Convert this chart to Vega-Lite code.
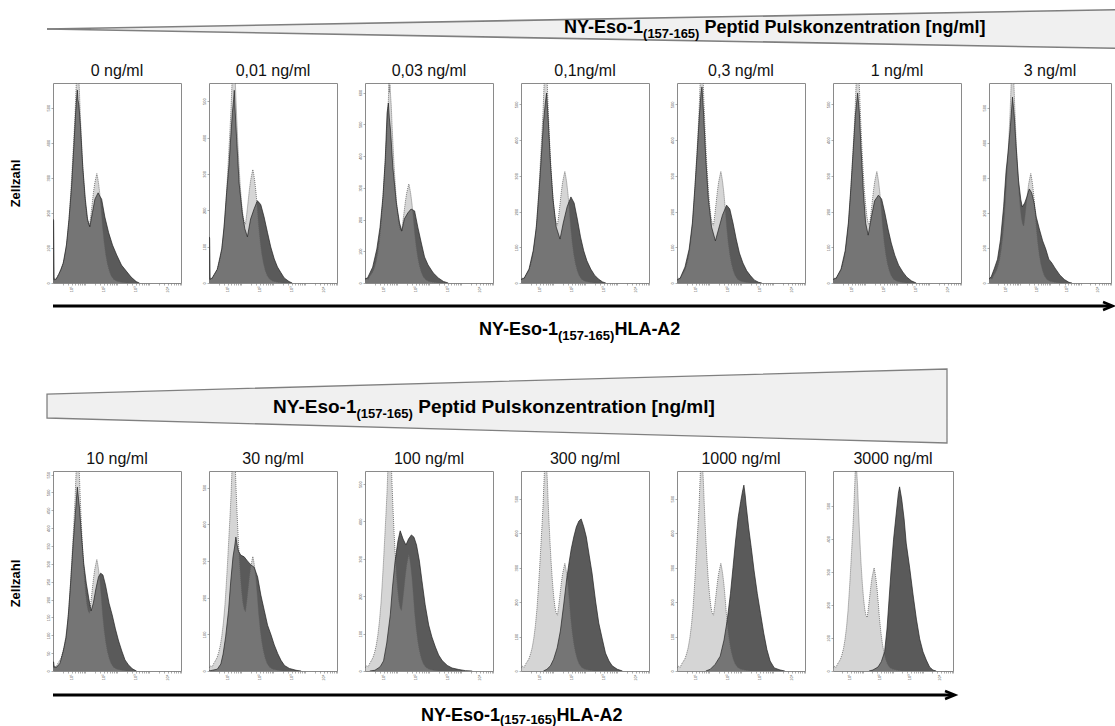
{
"$schema":"https://vega.github.io/schema/vega-lite/v6.json",
"padding":{"left":8,"top":0,"right":0,"bottom":0},
"background":"white",
"datasets":{
"control":[{"x":0,"n":8},{"x":0.05,"n":14},{"x":0.1,"n":11},{"x":0.15,"n":21},{"x":0.2,"n":28},{"x":0.25,"n":36},{"x":0.3,"n":50},{"x":0.35,"n":68},{"x":0.4,"n":95},{"x":0.45,"n":132},{"x":0.5,"n":182},{"x":0.54,"n":236},{"x":0.58,"n":296},{"x":0.62,"n":362},{"x":0.66,"n":428},{"x":0.69,"n":482},{"x":0.71,"n":530},{"x":0.73,"n":575},{"x":0.75,"n":640},{"x":0.76,"n":600},{"x":0.78,"n":625},{"x":0.8,"n":590},{"x":0.82,"n":560},{"x":0.85,"n":488},{"x":0.88,"n":425},{"x":0.91,"n":368},{"x":0.94,"n":318},{"x":0.98,"n":262},{"x":1.02,"n":218},{"x":1.06,"n":186},{"x":1.1,"n":168},{"x":1.14,"n":162},{"x":1.18,"n":190},{"x":1.22,"n":222},{"x":1.26,"n":255},{"x":1.3,"n":282},{"x":1.34,"n":300},{"x":1.37,"n":312},{"x":1.4,"n":298},{"x":1.43,"n":280},{"x":1.47,"n":248},{"x":1.51,"n":205},{"x":1.55,"n":158},{"x":1.6,"n":114},{"x":1.65,"n":80},{"x":1.7,"n":55},{"x":1.76,"n":34},{"x":1.82,"n":20},{"x":1.9,"n":10},{"x":2,"n":5},{"x":2.15,"n":2},{"x":2.3,"n":0}],
"sample":[
{"p":"p1","x":0,"n":182},{"p":"p1","x":0.02,"n":178},{"p":"p1","x":0.035,"n":9},{"p":"p1","x":0.1,"n":11},{"p":"p1","x":0.17,"n":23},{"p":"p1","x":0.25,"n":40},{"p":"p1","x":0.32,"n":57},{"p":"p1","x":0.42,"n":108},{"p":"p1","x":0.5,"n":182},{"p":"p1","x":0.58,"n":274},{"p":"p1","x":0.65,"n":388},{"p":"p1","x":0.71,"n":490},{"p":"p1","x":0.74,"n":528},{"p":"p1","x":0.76,"n":550},{"p":"p1","x":0.78,"n":522},{"p":"p1","x":0.81,"n":507},{"p":"p1","x":0.86,"n":445},{"p":"p1","x":0.93,"n":331},{"p":"p1","x":1.01,"n":239},{"p":"p1","x":1.08,"n":182},{"p":"p1","x":1.15,"n":160},{"p":"p1","x":1.23,"n":200},{"p":"p1","x":1.31,"n":239},{"p":"p1","x":1.37,"n":250},{"p":"p1","x":1.41,"n":257},{"p":"p1","x":1.46,"n":248},{"p":"p1","x":1.52,"n":239},{"p":"p1","x":1.62,"n":188},{"p":"p1","x":1.74,"n":143},{"p":"p1","x":1.86,"n":108},{"p":"p1","x":1.99,"n":80},{"p":"p1","x":2.14,"n":51},{"p":"p1","x":2.29,"n":34},{"p":"p1","x":2.44,"n":17},{"p":"p1","x":2.6,"n":4},{"p":"p1","x":2.7,"n":0},
{"p":"p2","x":0,"n":127},{"p":"p2","x":0.02,"n":124},{"p":"p2","x":0.035,"n":10},{"p":"p2","x":0.1,"n":14},{"p":"p2","x":0.26,"n":38},{"p":"p2","x":0.4,"n":94},{"p":"p2","x":0.47,"n":154},{"p":"p2","x":0.55,"n":248},{"p":"p2","x":0.63,"n":330},{"p":"p2","x":0.68,"n":402},{"p":"p2","x":0.73,"n":468},{"p":"p2","x":0.77,"n":505},{"p":"p2","x":0.79,"n":530},{"p":"p2","x":0.82,"n":470},{"p":"p2","x":0.86,"n":402},{"p":"p2","x":0.94,"n":275},{"p":"p2","x":1.04,"n":193},{"p":"p2","x":1.12,"n":149},{"p":"p2","x":1.2,"n":127},{"p":"p2","x":1.3,"n":176},{"p":"p2","x":1.41,"n":204},{"p":"p2","x":1.51,"n":226},{"p":"p2","x":1.56,"n":222},{"p":"p2","x":1.62,"n":215},{"p":"p2","x":1.72,"n":182},{"p":"p2","x":1.83,"n":138},{"p":"p2","x":1.93,"n":99},{"p":"p2","x":2.04,"n":66},{"p":"p2","x":2.14,"n":44},{"p":"p2","x":2.25,"n":28},{"p":"p2","x":2.35,"n":14},{"p":"p2","x":2.5,"n":4},{"p":"p2","x":2.6,"n":0},
{"p":"p3","x":0,"n":13},{"p":"p3","x":0.08,"n":16},{"p":"p3","x":0.24,"n":50},{"p":"p3","x":0.37,"n":107},{"p":"p3","x":0.47,"n":176},{"p":"p3","x":0.56,"n":271},{"p":"p3","x":0.63,"n":384},{"p":"p3","x":0.69,"n":535},{"p":"p3","x":0.73,"n":567},{"p":"p3","x":0.76,"n":520},{"p":"p3","x":0.8,"n":479},{"p":"p3","x":0.87,"n":365},{"p":"p3","x":0.98,"n":252},{"p":"p3","x":1.08,"n":189},{"p":"p3","x":1.15,"n":164},{"p":"p3","x":1.23,"n":202},{"p":"p3","x":1.34,"n":221},{"p":"p3","x":1.44,"n":233},{"p":"p3","x":1.55,"n":227},{"p":"p3","x":1.65,"n":176},{"p":"p3","x":1.76,"n":126},{"p":"p3","x":1.86,"n":82},{"p":"p3","x":1.97,"n":57},{"p":"p3","x":2.13,"n":32},{"p":"p3","x":2.29,"n":16},{"p":"p3","x":2.45,"n":5},{"p":"p3","x":2.6,"n":0},
{"p":"p4","x":0,"n":10},{"p":"p4","x":0.1,"n":14},{"p":"p4","x":0.25,"n":39},{"p":"p4","x":0.38,"n":90},{"p":"p4","x":0.48,"n":157},{"p":"p4","x":0.56,"n":252},{"p":"p4","x":0.63,"n":347},{"p":"p4","x":0.7,"n":448},{"p":"p4","x":0.76,"n":504},{"p":"p4","x":0.8,"n":532},{"p":"p4","x":0.85,"n":459},{"p":"p4","x":0.92,"n":336},{"p":"p4","x":1,"n":235},{"p":"p4","x":1.1,"n":157},{"p":"p4","x":1.22,"n":123},{"p":"p4","x":1.32,"n":168},{"p":"p4","x":1.44,"n":213},{"p":"p4","x":1.56,"n":241},{"p":"p4","x":1.66,"n":224},{"p":"p4","x":1.76,"n":179},{"p":"p4","x":1.86,"n":129},{"p":"p4","x":1.96,"n":90},{"p":"p4","x":2.06,"n":62},{"p":"p4","x":2.18,"n":39},{"p":"p4","x":2.3,"n":22},{"p":"p4","x":2.42,"n":11},{"p":"p4","x":2.55,"n":3},{"p":"p4","x":2.65,"n":0},
{"p":"p5","x":0,"n":8},{"p":"p5","x":0.1,"n":14},{"p":"p5","x":0.25,"n":45},{"p":"p5","x":0.38,"n":95},{"p":"p5","x":0.48,"n":168},{"p":"p5","x":0.56,"n":269},{"p":"p5","x":0.63,"n":364},{"p":"p5","x":0.7,"n":470},{"p":"p5","x":0.75,"n":532},{"p":"p5","x":0.78,"n":549},{"p":"p5","x":0.83,"n":476},{"p":"p5","x":0.9,"n":347},{"p":"p5","x":0.98,"n":235},{"p":"p5","x":1.08,"n":157},{"p":"p5","x":1.2,"n":118},{"p":"p5","x":1.3,"n":151},{"p":"p5","x":1.42,"n":190},{"p":"p5","x":1.55,"n":218},{"p":"p5","x":1.65,"n":207},{"p":"p5","x":1.75,"n":168},{"p":"p5","x":1.85,"n":123},{"p":"p5","x":1.95,"n":84},{"p":"p5","x":2.06,"n":56},{"p":"p5","x":2.18,"n":34},{"p":"p5","x":2.3,"n":20},{"p":"p5","x":2.42,"n":8},{"p":"p5","x":2.55,"n":2},{"p":"p5","x":2.65,"n":0},
{"p":"p6","x":0,"n":10},{"p":"p6","x":0.1,"n":14},{"p":"p6","x":0.25,"n":39},{"p":"p6","x":0.38,"n":90},{"p":"p6","x":0.48,"n":168},{"p":"p6","x":0.56,"n":269},{"p":"p6","x":0.63,"n":370},{"p":"p6","x":0.7,"n":470},{"p":"p6","x":0.77,"n":532},{"p":"p6","x":0.82,"n":482},{"p":"p6","x":0.88,"n":370},{"p":"p6","x":0.95,"n":252},{"p":"p6","x":1.02,"n":168},{"p":"p6","x":1.1,"n":134},{"p":"p6","x":1.2,"n":185},{"p":"p6","x":1.3,"n":230},{"p":"p6","x":1.42,"n":246},{"p":"p6","x":1.52,"n":235},{"p":"p6","x":1.62,"n":196},{"p":"p6","x":1.72,"n":151},{"p":"p6","x":1.82,"n":112},{"p":"p6","x":1.93,"n":78},{"p":"p6","x":2.05,"n":50},{"p":"p6","x":2.18,"n":31},{"p":"p6","x":2.3,"n":17},{"p":"p6","x":2.45,"n":6},{"p":"p6","x":2.6,"n":0},
{"p":"p7","x":0,"n":12},{"p":"p7","x":0.07,"n":17},{"p":"p7","x":0.17,"n":40},{"p":"p7","x":0.28,"n":68},{"p":"p7","x":0.38,"n":125},{"p":"p7","x":0.48,"n":217},{"p":"p7","x":0.56,"n":319},{"p":"p7","x":0.63,"n":376},{"p":"p7","x":0.7,"n":445},{"p":"p7","x":0.77,"n":530},{"p":"p7","x":0.83,"n":473},{"p":"p7","x":0.89,"n":388},{"p":"p7","x":0.97,"n":291},{"p":"p7","x":1.04,"n":239},{"p":"p7","x":1.09,"n":217},{"p":"p7","x":1.17,"n":228},{"p":"p7","x":1.24,"n":245},{"p":"p7","x":1.32,"n":268},{"p":"p7","x":1.4,"n":257},{"p":"p7","x":1.48,"n":228},{"p":"p7","x":1.55,"n":188},{"p":"p7","x":1.65,"n":154},{"p":"p7","x":1.76,"n":120},{"p":"p7","x":1.86,"n":97},{"p":"p7","x":1.96,"n":68},{"p":"p7","x":2.06,"n":57},{"p":"p7","x":2.16,"n":43},{"p":"p7","x":2.32,"n":23},{"p":"p7","x":2.47,"n":10},{"p":"p7","x":2.62,"n":2},{"p":"p7","x":2.72,"n":0},
{"p":"p8","x":0,"n":26},{"p":"p8","x":0.02,"n":25},{"p":"p8","x":0.035,"n":11},{"p":"p8","x":0.12,"n":11},{"p":"p8","x":0.22,"n":22},{"p":"p8","x":0.32,"n":56},{"p":"p8","x":0.41,"n":95},{"p":"p8","x":0.48,"n":157},{"p":"p8","x":0.55,"n":246},{"p":"p8","x":0.63,"n":358},{"p":"p8","x":0.7,"n":442},{"p":"p8","x":0.76,"n":515},{"p":"p8","x":0.83,"n":454},{"p":"p8","x":0.89,"n":381},{"p":"p8","x":0.96,"n":302},{"p":"p8","x":1.04,"n":246},{"p":"p8","x":1.12,"n":202},{"p":"p8","x":1.19,"n":168},{"p":"p8","x":1.26,"n":190},{"p":"p8","x":1.34,"n":230},{"p":"p8","x":1.42,"n":263},{"p":"p8","x":1.49,"n":274},{"p":"p8","x":1.56,"n":269},{"p":"p8","x":1.64,"n":241},{"p":"p8","x":1.75,"n":190},{"p":"p8","x":1.85,"n":157},{"p":"p8","x":1.95,"n":118},{"p":"p8","x":2.05,"n":84},{"p":"p8","x":2.15,"n":56},{"p":"p8","x":2.25,"n":31},{"p":"p8","x":2.36,"n":17},{"p":"p8","x":2.48,"n":6},{"p":"p8","x":2.61,"n":0},
{"p":"p9","x":0,"n":0},{"p":"p9","x":0.1,"n":2},{"p":"p9","x":0.26,"n":5},{"p":"p9","x":0.37,"n":19},{"p":"p9","x":0.44,"n":46},{"p":"p9","x":0.52,"n":93},{"p":"p9","x":0.61,"n":164},{"p":"p9","x":0.68,"n":245},{"p":"p9","x":0.75,"n":311},{"p":"p9","x":0.8,"n":338},{"p":"p9","x":0.84,"n":365},{"p":"p9","x":0.88,"n":343},{"p":"p9","x":0.92,"n":327},{"p":"p9","x":0.99,"n":316},{"p":"p9","x":1.1,"n":311},{"p":"p9","x":1.2,"n":300},{"p":"p9","x":1.31,"n":289},{"p":"p9","x":1.41,"n":283},{"p":"p9","x":1.52,"n":256},{"p":"p9","x":1.62,"n":207},{"p":"p9","x":1.73,"n":164},{"p":"p9","x":1.83,"n":125},{"p":"p9","x":1.94,"n":98},{"p":"p9","x":2.04,"n":71},{"p":"p9","x":2.15,"n":47},{"p":"p9","x":2.25,"n":29},{"p":"p9","x":2.36,"n":15},{"p":"p9","x":2.51,"n":7},{"p":"p9","x":2.72,"n":2},{"p":"p9","x":2.88,"n":0},
{"p":"p10","x":0.15,"n":0},{"p":"p10","x":0.31,"n":2},{"p":"p10","x":0.47,"n":11},{"p":"p10","x":0.58,"n":27},{"p":"p10","x":0.68,"n":75},{"p":"p10","x":0.79,"n":150},{"p":"p10","x":0.86,"n":225},{"p":"p10","x":0.94,"n":294},{"p":"p10","x":1.03,"n":348},{"p":"p10","x":1.1,"n":375},{"p":"p10","x":1.19,"n":353},{"p":"p10","x":1.28,"n":337},{"p":"p10","x":1.36,"n":353},{"p":"p10","x":1.45,"n":364},{"p":"p10","x":1.53,"n":358},{"p":"p10","x":1.61,"n":337},{"p":"p10","x":1.7,"n":294},{"p":"p10","x":1.78,"n":241},{"p":"p10","x":1.88,"n":177},{"p":"p10","x":1.99,"n":123},{"p":"p10","x":2.09,"n":91},{"p":"p10","x":2.2,"n":64},{"p":"p10","x":2.3,"n":43},{"p":"p10","x":2.41,"n":28},{"p":"p10","x":2.57,"n":15},{"p":"p10","x":2.72,"n":8},{"p":"p10","x":2.93,"n":4},{"p":"p10","x":3.14,"n":1},{"p":"p10","x":3.35,"n":0},
{"p":"p11","x":0.7,"n":0},{"p":"p11","x":0.81,"n":5},{"p":"p11","x":0.92,"n":15},{"p":"p11","x":1.02,"n":34},{"p":"p11","x":1.13,"n":67},{"p":"p11","x":1.23,"n":116},{"p":"p11","x":1.34,"n":197},{"p":"p11","x":1.42,"n":261},{"p":"p11","x":1.49,"n":307},{"p":"p11","x":1.57,"n":354},{"p":"p11","x":1.65,"n":389},{"p":"p11","x":1.73,"n":418},{"p":"p11","x":1.81,"n":435},{"p":"p11","x":1.88,"n":441},{"p":"p11","x":1.96,"n":418},{"p":"p11","x":2.04,"n":389},{"p":"p11","x":2.13,"n":336},{"p":"p11","x":2.22,"n":284},{"p":"p11","x":2.33,"n":203},{"p":"p11","x":2.43,"n":139},{"p":"p11","x":2.54,"n":93},{"p":"p11","x":2.64,"n":52},{"p":"p11","x":2.75,"n":29},{"p":"p11","x":2.85,"n":15},{"p":"p11","x":3.01,"n":5},{"p":"p11","x":3.17,"n":0},
{"p":"p12","x":0.9,"n":0},{"p":"p12","x":1.04,"n":5},{"p":"p12","x":1.19,"n":19},{"p":"p12","x":1.35,"n":43},{"p":"p12","x":1.47,"n":90},{"p":"p12","x":1.57,"n":148},{"p":"p12","x":1.67,"n":224},{"p":"p12","x":1.75,"n":300},{"p":"p12","x":1.83,"n":377},{"p":"p12","x":1.91,"n":444},{"p":"p12","x":1.99,"n":491},{"p":"p12","x":2.05,"n":522},{"p":"p12","x":2.09,"n":539},{"p":"p12","x":2.13,"n":510},{"p":"p12","x":2.16,"n":481},{"p":"p12","x":2.24,"n":415},{"p":"p12","x":2.32,"n":358},{"p":"p12","x":2.41,"n":290},{"p":"p12","x":2.51,"n":224},{"p":"p12","x":2.61,"n":167},{"p":"p12","x":2.71,"n":110},{"p":"p12","x":2.81,"n":62},{"p":"p12","x":2.91,"n":29},{"p":"p12","x":3.04,"n":9},{"p":"p12","x":3.22,"n":3},{"p":"p12","x":3.37,"n":0},
{"p":"p13","x":1.2,"n":0},{"p":"p13","x":1.33,"n":3},{"p":"p13","x":1.5,"n":12},{"p":"p13","x":1.61,"n":28},{"p":"p13","x":1.72,"n":58},{"p":"p13","x":1.8,"n":127},{"p":"p13","x":1.87,"n":218},{"p":"p13","x":1.94,"n":309},{"p":"p13","x":2.02,"n":399},{"p":"p13","x":2.11,"n":478},{"p":"p13","x":2.18,"n":538},{"p":"p13","x":2.22,"n":557},{"p":"p13","x":2.29,"n":520},{"p":"p13","x":2.37,"n":460},{"p":"p13","x":2.44,"n":387},{"p":"p13","x":2.56,"n":309},{"p":"p13","x":2.67,"n":230},{"p":"p13","x":2.78,"n":157},{"p":"p13","x":2.89,"n":97},{"p":"p13","x":3,"n":58},{"p":"p13","x":3.11,"n":33},{"p":"p13","x":3.22,"n":12},{"p":"p13","x":3.33,"n":3},{"p":"p13","x":3.44,"n":0}
]
},
"vconcat":[
{
"width":1062,"height":62,"view":{"stroke":null},
"layer":[
{"data":{"values":[{"x":-0.00565,"lo":0,"hi":0},{"x":1,"lo":-1,"hi":1}]},"mark":{"type":"area","color":"#f0f0f0"},
"encoding":{"x":{"field":"x","type":"quantitative","scale":{"domain":[0,1],"nice":false,"zero":false},"axis":null},"y":{"field":"lo","type":"quantitative","scale":{"domain":[-1.71,1.503],"nice":false,"zero":false},"axis":null},"y2":{"field":"hi"}}},
{"data":{"values":[{"x":-0.00565,"e":"top","v":0},{"x":1,"e":"top","v":1},{"x":-0.00565,"e":"bottom","v":0},{"x":1,"e":"bottom","v":-1}]},"mark":{"type":"line","color":"#7f7f7f","strokeWidth":1.6},
"encoding":{"x":{"field":"x","type":"quantitative"},"y":{"field":"v","type":"quantitative"},"detail":{"field":"e"}}},
{"data":{"values":[{}]},"mark":{"type":"text","text":"NY-Eso-1","align":"right","baseline":"alphabetic","fontSize":18,"fontWeight":"bold","color":"#000"},"encoding":{"x":{"datum":0.5556},"y":{"datum":-0.207}}},
{"data":{"values":[{}]},"mark":{"type":"text","text":"(157-165)","align":"left","baseline":"alphabetic","fontSize":13,"fontWeight":"bold","dy":5.5,"color":"#000"},"encoding":{"x":{"datum":0.5556},"y":{"datum":-0.207}}},
{"data":{"values":[{}]},"mark":{"type":"text","text":"Peptid Pulskonzentration [ng/ml]","align":"left","baseline":"alphabetic","fontSize":18,"fontWeight":"bold","dx":61.4,"color":"#000"},"encoding":{"x":{"datum":0.5556},"y":{"datum":-0.207}}}
]
},
{
"hconcat":[
{"title":"0 ng/ml","width":128,"height":200,
"encoding":{"x":{"field":"x","type":"quantitative","scale":{"domain":[0,4],"nice":false,"zero":false},"axis":{"values":[0.301,0.477,0.602,0.699,0.778,0.845,0.903,0.954,1,1.301,1.477,1.602,1.699,1.778,1.845,1.903,1.954,2,2.301,2.477,2.602,2.699,2.778,2.845,2.903,2.954,3,3.301,3.477,3.602,3.699,3.778,3.845,3.903,3.954,4],"labelExpr":"datum.value==1?'10¹':datum.value==2?'10²':datum.value==3?'10³':datum.value==4?'10⁴':''","title":null}},
"y":{"field":"n","type":"quantitative","scale":{"domain":[0,570],"nice":false,"zero":false},"axis":{"values":[0,100,200,300,400,500],"title":"Zellzahl","titleFontSize":13,"titleFontWeight":"bold","titleX":-34,"titleY":100,"titleBaseline":"alphabetic","titleAlign":"center","titleColor":"#000"}}},
"layer":[
{"data":{"name":"sample"},"transform":[{"filter":"datum.p=='p1'"}],"mark":{"type":"area","color":"#5a5a5a","clip":true}},
{"data":{"name":"control"},"mark":{"type":"area","color":"#9c9c9c","opacity":0.42,"clip":true}},
{"data":{"name":"control"},"mark":{"type":"line","color":"#5e5e5e","strokeWidth":0.8,"strokeDash":[1,1],"clip":true}},
{"data":{"name":"sample"},"transform":[{"filter":"datum.p=='p1'"}],"mark":{"type":"line","color":"#222","strokeWidth":0.7,"clip":true}},
{"data":{"values":[{}]},"mark":{"type":"rule","color":"#8a8a8a"},"encoding":{"x":{"datum":2.28},"y":{"datum":0},"y2":{"datum":570}}},
{"data":{"values":[{}]},"mark":{"type":"rule","color":"#666"},"encoding":{"x":{"datum":2.28},"x2":{"datum":4},"y":{"datum":34}}}
]},
{"title":"0,01 ng/ml","width":128,"height":200,
"encoding":{"x":{"field":"x","type":"quantitative","scale":{"domain":[0,4],"nice":false,"zero":false},"axis":{"values":[0.301,0.477,0.602,0.699,0.778,0.845,0.903,0.954,1,1.301,1.477,1.602,1.699,1.778,1.845,1.903,1.954,2,2.301,2.477,2.602,2.699,2.778,2.845,2.903,2.954,3,3.301,3.477,3.602,3.699,3.778,3.845,3.903,3.954,4],"labelExpr":"datum.value==1?'10¹':datum.value==2?'10²':datum.value==3?'10³':datum.value==4?'10⁴':''","title":null}},
"y":{"field":"n","type":"quantitative","scale":{"domain":[0,550],"nice":false,"zero":false},"axis":{"values":[0,100,200,300,400,500],"title":null}}},
"layer":[
{"data":{"name":"sample"},"transform":[{"filter":"datum.p=='p2'"}],"mark":{"type":"area","color":"#5a5a5a","clip":true}},
{"data":{"name":"control"},"mark":{"type":"area","color":"#9c9c9c","opacity":0.42,"clip":true}},
{"data":{"name":"control"},"mark":{"type":"line","color":"#5e5e5e","strokeWidth":0.8,"strokeDash":[1,1],"clip":true}},
{"data":{"name":"sample"},"transform":[{"filter":"datum.p=='p2'"}],"mark":{"type":"line","color":"#222","strokeWidth":0.7,"clip":true}},
{"data":{"values":[{}]},"mark":{"type":"rule","color":"#8a8a8a"},"encoding":{"x":{"datum":2.28},"y":{"datum":0},"y2":{"datum":550}}},
{"data":{"values":[{}]},"mark":{"type":"rule","color":"#666"},"encoding":{"x":{"datum":2.28},"x2":{"datum":4},"y":{"datum":33}}}
]},
{"title":"0,03 ng/ml","width":128,"height":200,
"encoding":{"x":{"field":"x","type":"quantitative","scale":{"domain":[0,4],"nice":false,"zero":false},"axis":{"values":[0.301,0.477,0.602,0.699,0.778,0.845,0.903,0.954,1,1.301,1.477,1.602,1.699,1.778,1.845,1.903,1.954,2,2.301,2.477,2.602,2.699,2.778,2.845,2.903,2.954,3,3.301,3.477,3.602,3.699,3.778,3.845,3.903,3.954,4],"labelExpr":"datum.value==1?'10¹':datum.value==2?'10²':datum.value==3?'10³':datum.value==4?'10⁴':''","title":null}},
"y":{"field":"n","type":"quantitative","scale":{"domain":[0,630],"nice":false,"zero":false},"axis":{"values":[0,100,200,300,400,500,600],"title":null}}},
"layer":[
{"data":{"name":"sample"},"transform":[{"filter":"datum.p=='p3'"}],"mark":{"type":"area","color":"#5a5a5a","clip":true}},
{"data":{"name":"control"},"mark":{"type":"area","color":"#9c9c9c","opacity":0.42,"clip":true}},
{"data":{"name":"control"},"mark":{"type":"line","color":"#5e5e5e","strokeWidth":0.8,"strokeDash":[1,1],"clip":true}},
{"data":{"name":"sample"},"transform":[{"filter":"datum.p=='p3'"}],"mark":{"type":"line","color":"#222","strokeWidth":0.7,"clip":true}},
{"data":{"values":[{}]},"mark":{"type":"rule","color":"#8a8a8a"},"encoding":{"x":{"datum":2.28},"y":{"datum":0},"y2":{"datum":630}}},
{"data":{"values":[{}]},"mark":{"type":"rule","color":"#666"},"encoding":{"x":{"datum":2.28},"x2":{"datum":4},"y":{"datum":38}}}
]},
{"title":"0,1ng/ml","width":128,"height":200,
"encoding":{"x":{"field":"x","type":"quantitative","scale":{"domain":[0,4],"nice":false,"zero":false},"axis":{"values":[0.301,0.477,0.602,0.699,0.778,0.845,0.903,0.954,1,1.301,1.477,1.602,1.699,1.778,1.845,1.903,1.954,2,2.301,2.477,2.602,2.699,2.778,2.845,2.903,2.954,3,3.301,3.477,3.602,3.699,3.778,3.845,3.903,3.954,4],"labelExpr":"datum.value==1?'10¹':datum.value==2?'10²':datum.value==3?'10³':datum.value==4?'10⁴':''","title":null}},
"y":{"field":"n","type":"quantitative","scale":{"domain":[0,560],"nice":false,"zero":false},"axis":{"values":[0,100,200,300,400,500],"title":null}}},
"layer":[
{"data":{"name":"sample"},"transform":[{"filter":"datum.p=='p4'"}],"mark":{"type":"area","color":"#5a5a5a","clip":true}},
{"data":{"name":"control"},"mark":{"type":"area","color":"#9c9c9c","opacity":0.42,"clip":true}},
{"data":{"name":"control"},"mark":{"type":"line","color":"#5e5e5e","strokeWidth":0.8,"strokeDash":[1,1],"clip":true}},
{"data":{"name":"sample"},"transform":[{"filter":"datum.p=='p4'"}],"mark":{"type":"line","color":"#222","strokeWidth":0.7,"clip":true}},
{"data":{"values":[{}]},"mark":{"type":"rule","color":"#8a8a8a"},"encoding":{"x":{"datum":2.28},"y":{"datum":0},"y2":{"datum":560}}},
{"data":{"values":[{}]},"mark":{"type":"rule","color":"#666"},"encoding":{"x":{"datum":2.28},"x2":{"datum":4},"y":{"datum":34}}}
]},
{"title":"0,3 ng/ml","width":128,"height":200,
"encoding":{"x":{"field":"x","type":"quantitative","scale":{"domain":[0,4],"nice":false,"zero":false},"axis":{"values":[0.301,0.477,0.602,0.699,0.778,0.845,0.903,0.954,1,1.301,1.477,1.602,1.699,1.778,1.845,1.903,1.954,2,2.301,2.477,2.602,2.699,2.778,2.845,2.903,2.954,3,3.301,3.477,3.602,3.699,3.778,3.845,3.903,3.954,4],"labelExpr":"datum.value==1?'10¹':datum.value==2?'10²':datum.value==3?'10³':datum.value==4?'10⁴':''","title":null}},
"y":{"field":"n","type":"quantitative","scale":{"domain":[0,560],"nice":false,"zero":false},"axis":{"values":[0,100,200,300,400,500],"title":null}}},
"layer":[
{"data":{"name":"sample"},"transform":[{"filter":"datum.p=='p5'"}],"mark":{"type":"area","color":"#5a5a5a","clip":true}},
{"data":{"name":"control"},"mark":{"type":"area","color":"#9c9c9c","opacity":0.42,"clip":true}},
{"data":{"name":"control"},"mark":{"type":"line","color":"#5e5e5e","strokeWidth":0.8,"strokeDash":[1,1],"clip":true}},
{"data":{"name":"sample"},"transform":[{"filter":"datum.p=='p5'"}],"mark":{"type":"line","color":"#222","strokeWidth":0.7,"clip":true}},
{"data":{"values":[{}]},"mark":{"type":"rule","color":"#8a8a8a"},"encoding":{"x":{"datum":2.28},"y":{"datum":0},"y2":{"datum":560}}},
{"data":{"values":[{}]},"mark":{"type":"rule","color":"#666"},"encoding":{"x":{"datum":2.28},"x2":{"datum":4},"y":{"datum":34}}}
]},
{"title":"1 ng/ml","width":128,"height":200,
"encoding":{"x":{"field":"x","type":"quantitative","scale":{"domain":[0,4],"nice":false,"zero":false},"axis":{"values":[0.301,0.477,0.602,0.699,0.778,0.845,0.903,0.954,1,1.301,1.477,1.602,1.699,1.778,1.845,1.903,1.954,2,2.301,2.477,2.602,2.699,2.778,2.845,2.903,2.954,3,3.301,3.477,3.602,3.699,3.778,3.845,3.903,3.954,4],"labelExpr":"datum.value==1?'10¹':datum.value==2?'10²':datum.value==3?'10³':datum.value==4?'10⁴':''","title":null}},
"y":{"field":"n","type":"quantitative","scale":{"domain":[0,560],"nice":false,"zero":false},"axis":{"values":[0,100,200,300,400,500],"title":null}}},
"layer":[
{"data":{"name":"sample"},"transform":[{"filter":"datum.p=='p6'"}],"mark":{"type":"area","color":"#5a5a5a","clip":true}},
{"data":{"name":"control"},"mark":{"type":"area","color":"#9c9c9c","opacity":0.42,"clip":true}},
{"data":{"name":"control"},"mark":{"type":"line","color":"#5e5e5e","strokeWidth":0.8,"strokeDash":[1,1],"clip":true}},
{"data":{"name":"sample"},"transform":[{"filter":"datum.p=='p6'"}],"mark":{"type":"line","color":"#222","strokeWidth":0.7,"clip":true}},
{"data":{"values":[{}]},"mark":{"type":"rule","color":"#8a8a8a"},"encoding":{"x":{"datum":2.28},"y":{"datum":0},"y2":{"datum":560}}},
{"data":{"values":[{}]},"mark":{"type":"rule","color":"#666"},"encoding":{"x":{"datum":2.28},"x2":{"datum":4},"y":{"datum":34}}}
]},
{"title":"3 ng/ml","width":122,"height":200,
"encoding":{"x":{"field":"x","type":"quantitative","scale":{"domain":[0,4],"nice":false,"zero":false},"axis":{"values":[0.301,0.477,0.602,0.699,0.778,0.845,0.903,0.954,1,1.301,1.477,1.602,1.699,1.778,1.845,1.903,1.954,2,2.301,2.477,2.602,2.699,2.778,2.845,2.903,2.954,3,3.301,3.477,3.602,3.699,3.778,3.845,3.903,3.954,4],"labelExpr":"datum.value==1?'10¹':datum.value==2?'10²':datum.value==3?'10³':datum.value==4?'10⁴':''","title":null}},
"y":{"field":"n","type":"quantitative","scale":{"domain":[0,570],"nice":false,"zero":false},"axis":{"values":[0,100,200,300,400,500],"title":null}}},
"layer":[
{"data":{"name":"sample"},"transform":[{"filter":"datum.p=='p7'"}],"mark":{"type":"area","color":"#5a5a5a","clip":true}},
{"data":{"name":"control"},"mark":{"type":"area","color":"#9c9c9c","opacity":0.42,"clip":true}},
{"data":{"name":"control"},"mark":{"type":"line","color":"#5e5e5e","strokeWidth":0.8,"strokeDash":[1,1],"clip":true}},
{"data":{"name":"sample"},"transform":[{"filter":"datum.p=='p7'"}],"mark":{"type":"line","color":"#222","strokeWidth":0.7,"clip":true}},
{"data":{"values":[{}]},"mark":{"type":"rule","color":"#8a8a8a"},"encoding":{"x":{"datum":2.28},"y":{"datum":0},"y2":{"datum":570}}},
{"data":{"values":[{}]},"mark":{"type":"rule","color":"#666"},"encoding":{"x":{"datum":2.28},"x2":{"datum":4},"y":{"datum":34}}}
]}
],
"spacing":19
},
{
"width":1060,"height":52,"view":{"stroke":null},
"layer":[
{"data":{"values":[{}]},"mark":{"type":"rule","color":"#000","strokeWidth":3},"encoding":{"x":{"datum":0,"type":"quantitative","scale":{"domain":[0,1],"nice":false,"zero":false},"axis":null},"x2":{"datum":0.998},"y":{"datum":0.25,"type":"quantitative","scale":{"domain":[0,1],"reverse":true,"nice":false,"zero":false},"axis":null}}},
{"data":{"values":[{}]},"mark":{"type":"point","shape":"M-1,-0.8L1,0L-1,0.8","filled":false,"stroke":"#000","strokeWidth":2.5,"size":100,"opacity":1},"encoding":{"x":{"datum":0.9953},"y":{"datum":0.25}}},
{"data":{"values":[{}]},"mark":{"type":"text","text":"NY-Eso-1","align":"right","baseline":"alphabetic","fontSize":18,"fontWeight":"bold","color":"#000"},"encoding":{"x":{"datum":0.4764},"y":{"datum":0.808}}},
{"data":{"values":[{}]},"mark":{"type":"text","text":"(157-165)","align":"left","baseline":"alphabetic","fontSize":13,"fontWeight":"bold","dy":5,"color":"#000"},"encoding":{"x":{"datum":0.4764},"y":{"datum":0.808}}},
{"data":{"values":[{}]},"mark":{"type":"text","text":"HLA-A2","align":"left","baseline":"alphabetic","fontSize":18,"fontWeight":"bold","dx":56.4,"color":"#000"},"encoding":{"x":{"datum":0.4764},"y":{"datum":0.808}}}
]
},
{
"width":894,"height":105,"view":{"stroke":null},
"layer":[
{"data":{"values":[{"x":-0.0067,"lo":-0.324,"hi":0.324},{"x":1,"lo":-1,"hi":1}]},"mark":{"type":"area","color":"#f0f0f0","stroke":"#808080","strokeWidth":1.3},
"encoding":{"x":{"field":"x","type":"quantitative","scale":{"domain":[0,1],"nice":false,"zero":false},"axis":null},"y":{"field":"lo","type":"quantitative","scale":{"domain":[-1.189,1.649],"nice":false,"zero":false},"axis":null},"y2":{"field":"hi"}}},
{"data":{"values":[{}]},"mark":{"type":"text","text":"NY-Eso-1","align":"right","baseline":"alphabetic","fontSize":19,"fontWeight":"bold","color":"#000"},"encoding":{"x":{"datum":0.3395},"y":{"datum":-0.2}}},
{"data":{"values":[{}]},"mark":{"type":"text","text":"(157-165)","align":"left","baseline":"alphabetic","fontSize":13,"fontWeight":"bold","dy":5,"color":"#000"},"encoding":{"x":{"datum":0.3395},"y":{"datum":-0.2}}},
{"data":{"values":[{}]},"mark":{"type":"text","text":"Peptid Pulskonzentration [ng/ml]","align":"left","baseline":"alphabetic","fontSize":19,"fontWeight":"bold","dx":61.7,"color":"#000"},"encoding":{"x":{"datum":0.3395},"y":{"datum":-0.2}}}
]
},
{
"hconcat":[
{"title":"10 ng/ml","width":128,"height":200,
"encoding":{"x":{"field":"x","type":"quantitative","scale":{"domain":[0,4],"nice":false,"zero":false},"axis":{"values":[0.301,0.477,0.602,0.699,0.778,0.845,0.903,0.954,1,1.301,1.477,1.602,1.699,1.778,1.845,1.903,1.954,2,2.301,2.477,2.602,2.699,2.778,2.845,2.903,2.954,3,3.301,3.477,3.602,3.699,3.778,3.845,3.903,3.954,4],"labelExpr":"datum.value==1?'10¹':datum.value==2?'10²':datum.value==3?'10³':datum.value==4?'10⁴':''","title":null}},
"y":{"field":"n","type":"quantitative","scale":{"domain":[0,560],"nice":false,"zero":false},"axis":{"values":[0,50,100,150,200,250,300,350,400,450,500,550],"title":"Zellzahl","titleFontSize":13,"titleFontWeight":"bold","titleX":-34,"titleY":112,"titleBaseline":"alphabetic","titleAlign":"center","titleColor":"#000"}}},
"layer":[
{"data":{"name":"sample"},"transform":[{"filter":"datum.p=='p8'"}],"mark":{"type":"area","color":"#5a5a5a","clip":true}},
{"data":{"name":"control"},"mark":{"type":"area","color":"#9c9c9c","opacity":0.42,"clip":true}},
{"data":{"name":"control"},"mark":{"type":"line","color":"#5e5e5e","strokeWidth":0.8,"strokeDash":[1,1],"clip":true}},
{"data":{"name":"sample"},"transform":[{"filter":"datum.p=='p8'"}],"mark":{"type":"line","color":"#222","strokeWidth":0.7,"clip":true}},
{"data":{"values":[{}]},"mark":{"type":"rule","color":"#8a8a8a"},"encoding":{"x":{"datum":2.28},"y":{"datum":0},"y2":{"datum":560}}},
{"data":{"values":[{}]},"mark":{"type":"rule","color":"#666"},"encoding":{"x":{"datum":2.28},"x2":{"datum":4},"y":{"datum":33}}}
]},
{"title":"30 ng/ml","width":128,"height":200,
"encoding":{"x":{"field":"x","type":"quantitative","scale":{"domain":[0,4],"nice":false,"zero":false},"axis":{"values":[0.301,0.477,0.602,0.699,0.778,0.845,0.903,0.954,1,1.301,1.477,1.602,1.699,1.778,1.845,1.903,1.954,2,2.301,2.477,2.602,2.699,2.778,2.845,2.903,2.954,3,3.301,3.477,3.602,3.699,3.778,3.845,3.903,3.954,4],"labelExpr":"datum.value==1?'10¹':datum.value==2?'10²':datum.value==3?'10³':datum.value==4?'10⁴':''","title":null}},
"y":{"field":"n","type":"quantitative","scale":{"domain":[0,545],"nice":false,"zero":false},"axis":{"values":[0,100,200,300,400,500],"title":null}}},
"layer":[
{"data":{"name":"sample"},"transform":[{"filter":"datum.p=='p9'"}],"mark":{"type":"area","color":"#5a5a5a","clip":true}},
{"data":{"name":"control"},"mark":{"type":"area","color":"#9c9c9c","opacity":0.42,"clip":true}},
{"data":{"name":"control"},"mark":{"type":"line","color":"#5e5e5e","strokeWidth":0.8,"strokeDash":[1,1],"clip":true}},
{"data":{"name":"sample"},"transform":[{"filter":"datum.p=='p9'"}],"mark":{"type":"line","color":"#222","strokeWidth":0.7,"clip":true}},
{"data":{"values":[{}]},"mark":{"type":"rule","color":"#8a8a8a"},"encoding":{"x":{"datum":2.28},"y":{"datum":0},"y2":{"datum":545}}},
{"data":{"values":[{}]},"mark":{"type":"rule","color":"#666"},"encoding":{"x":{"datum":2.28},"x2":{"datum":4},"y":{"datum":33}}}
]},
{"title":"100 ng/ml","width":128,"height":200,
"encoding":{"x":{"field":"x","type":"quantitative","scale":{"domain":[0,4],"nice":false,"zero":false},"axis":{"values":[0.301,0.477,0.602,0.699,0.778,0.845,0.903,0.954,1,1.301,1.477,1.602,1.699,1.778,1.845,1.903,1.954,2,2.301,2.477,2.602,2.699,2.778,2.845,2.903,2.954,3,3.301,3.477,3.602,3.699,3.778,3.845,3.903,3.954,4],"labelExpr":"datum.value==1?'10¹':datum.value==2?'10²':datum.value==3?'10³':datum.value==4?'10⁴':''","title":null}},
"y":{"field":"n","type":"quantitative","scale":{"domain":[0,535],"nice":false,"zero":false},"axis":{"values":[0,100,200,300,400,500],"title":null}}},
"layer":[
{"data":{"name":"sample"},"transform":[{"filter":"datum.p=='p10'"}],"mark":{"type":"area","color":"#5a5a5a","clip":true}},
{"data":{"name":"control"},"mark":{"type":"area","color":"#9c9c9c","opacity":0.42,"clip":true}},
{"data":{"name":"control"},"mark":{"type":"line","color":"#5e5e5e","strokeWidth":0.8,"strokeDash":[1,1],"clip":true}},
{"data":{"name":"sample"},"transform":[{"filter":"datum.p=='p10'"}],"mark":{"type":"line","color":"#222","strokeWidth":0.7,"clip":true}},
{"data":{"values":[{}]},"mark":{"type":"rule","color":"#8a8a8a"},"encoding":{"x":{"datum":2.28},"y":{"datum":0},"y2":{"datum":535}}},
{"data":{"values":[{}]},"mark":{"type":"rule","color":"#666"},"encoding":{"x":{"datum":2.28},"x2":{"datum":4},"y":{"datum":32}}}
]},
{"title":"300 ng/ml","width":128,"height":200,
"encoding":{"x":{"field":"x","type":"quantitative","scale":{"domain":[0,4],"nice":false,"zero":false},"axis":{"values":[0.301,0.477,0.602,0.699,0.778,0.845,0.903,0.954,1,1.301,1.477,1.602,1.699,1.778,1.845,1.903,1.954,2,2.301,2.477,2.602,2.699,2.778,2.845,2.903,2.954,3,3.301,3.477,3.602,3.699,3.778,3.845,3.903,3.954,4],"labelExpr":"datum.value==1?'10¹':datum.value==2?'10²':datum.value==3?'10³':datum.value==4?'10⁴':''","title":null}},
"y":{"field":"n","type":"quantitative","scale":{"domain":[0,580],"nice":false,"zero":false},"axis":{"values":[0,100,200,300,400,500],"title":null}}},
"layer":[
{"data":{"name":"sample"},"transform":[{"filter":"datum.p=='p11'"}],"mark":{"type":"area","color":"#5a5a5a","clip":true}},
{"data":{"name":"control"},"mark":{"type":"area","color":"#9c9c9c","opacity":0.42,"clip":true}},
{"data":{"name":"control"},"mark":{"type":"line","color":"#5e5e5e","strokeWidth":0.8,"strokeDash":[1,1],"clip":true}},
{"data":{"name":"sample"},"transform":[{"filter":"datum.p=='p11'"}],"mark":{"type":"line","color":"#222","strokeWidth":0.7,"clip":true}},
{"data":{"values":[{}]},"mark":{"type":"rule","color":"#8a8a8a"},"encoding":{"x":{"datum":2.28},"y":{"datum":0},"y2":{"datum":580}}},
{"data":{"values":[{}]},"mark":{"type":"rule","color":"#666"},"encoding":{"x":{"datum":2.28},"x2":{"datum":4},"y":{"datum":35}}}
]},
{"title":"1000 ng/ml","width":128,"height":200,
"encoding":{"x":{"field":"x","type":"quantitative","scale":{"domain":[0,4],"nice":false,"zero":false},"axis":{"values":[0.301,0.477,0.602,0.699,0.778,0.845,0.903,0.954,1,1.301,1.477,1.602,1.699,1.778,1.845,1.903,1.954,2,2.301,2.477,2.602,2.699,2.778,2.845,2.903,2.954,3,3.301,3.477,3.602,3.699,3.778,3.845,3.903,3.954,4],"labelExpr":"datum.value==1?'10¹':datum.value==2?'10²':datum.value==3?'10³':datum.value==4?'10⁴':''","title":null}},
"y":{"field":"n","type":"quantitative","scale":{"domain":[0,580],"nice":false,"zero":false},"axis":{"values":[0,100,200,300,400,500],"title":null}}},
"layer":[
{"data":{"name":"sample"},"transform":[{"filter":"datum.p=='p12'"}],"mark":{"type":"area","color":"#5a5a5a","clip":true}},
{"data":{"name":"control"},"mark":{"type":"area","color":"#9c9c9c","opacity":0.42,"clip":true}},
{"data":{"name":"control"},"mark":{"type":"line","color":"#5e5e5e","strokeWidth":0.8,"strokeDash":[1,1],"clip":true}},
{"data":{"name":"sample"},"transform":[{"filter":"datum.p=='p12'"}],"mark":{"type":"line","color":"#222","strokeWidth":0.7,"clip":true}},
{"data":{"values":[{}]},"mark":{"type":"rule","color":"#8a8a8a"},"encoding":{"x":{"datum":2.28},"y":{"datum":0},"y2":{"datum":580}}},
{"data":{"values":[{}]},"mark":{"type":"rule","color":"#666"},"encoding":{"x":{"datum":2.28},"x2":{"datum":4},"y":{"datum":35}}}
]},
{"title":"3000 ng/ml","width":120,"height":200,
"encoding":{"x":{"field":"x","type":"quantitative","scale":{"domain":[0,4],"nice":false,"zero":false},"axis":{"values":[0.301,0.477,0.602,0.699,0.778,0.845,0.903,0.954,1,1.301,1.477,1.602,1.699,1.778,1.845,1.903,1.954,2,2.301,2.477,2.602,2.699,2.778,2.845,2.903,2.954,3,3.301,3.477,3.602,3.699,3.778,3.845,3.903,3.954,4],"labelExpr":"datum.value==1?'10¹':datum.value==2?'10²':datum.value==3?'10³':datum.value==4?'10⁴':''","title":null}},
"y":{"field":"n","type":"quantitative","scale":{"domain":[0,605],"nice":false,"zero":false},"axis":{"values":[0,100,200,300,400,500],"title":null}}},
"layer":[
{"data":{"name":"sample"},"transform":[{"filter":"datum.p=='p13'"}],"mark":{"type":"area","color":"#5a5a5a","clip":true}},
{"data":{"name":"control"},"mark":{"type":"area","color":"#9c9c9c","opacity":0.42,"clip":true}},
{"data":{"name":"control"},"mark":{"type":"line","color":"#5e5e5e","strokeWidth":0.8,"strokeDash":[1,1],"clip":true}},
{"data":{"name":"sample"},"transform":[{"filter":"datum.p=='p13'"}],"mark":{"type":"line","color":"#222","strokeWidth":0.7,"clip":true}},
{"data":{"values":[{}]},"mark":{"type":"rule","color":"#8a8a8a"},"encoding":{"x":{"datum":2.28},"y":{"datum":0},"y2":{"datum":605}}},
{"data":{"values":[{}]},"mark":{"type":"rule","color":"#666"},"encoding":{"x":{"datum":2.28},"x2":{"datum":4},"y":{"datum":36}}}
]}
],
"spacing":19
},
{
"width":902,"height":44,"view":{"stroke":null},
"layer":[
{"data":{"values":[{}]},"mark":{"type":"rule","color":"#000","strokeWidth":3},"encoding":{"x":{"datum":0,"type":"quantitative","scale":{"domain":[0,1],"nice":false,"zero":false},"axis":null},"x2":{"datum":0.9978},"y":{"datum":0.318,"type":"quantitative","scale":{"domain":[0,1],"reverse":true,"nice":false,"zero":false},"axis":null}}},
{"data":{"values":[{}]},"mark":{"type":"point","shape":"M-1,-0.8L1,0L-1,0.8","filled":false,"stroke":"#000","strokeWidth":2.5,"size":100,"opacity":1},"encoding":{"x":{"datum":0.9945},"y":{"datum":0.318}}},
{"data":{"values":[{}]},"mark":{"type":"text","text":"NY-Eso-1","align":"right","baseline":"alphabetic","fontSize":18,"fontWeight":"bold","color":"#000"},"encoding":{"x":{"datum":0.4956},"y":{"datum":0.9}}},
{"data":{"values":[{}]},"mark":{"type":"text","text":"(157-165)","align":"left","baseline":"alphabetic","fontSize":13,"fontWeight":"bold","dy":3,"color":"#000"},"encoding":{"x":{"datum":0.4956},"y":{"datum":0.9}}},
{"data":{"values":[{}]},"mark":{"type":"text","text":"HLA-A2","align":"left","baseline":"alphabetic","fontSize":18,"fontWeight":"bold","dx":56.4,"color":"#000"},"encoding":{"x":{"datum":0.4956},"y":{"datum":0.9}}}
]
}
],
"spacing":0,
"config":{
"font":"Liberation Sans",
"view":{"stroke":"#8a8a8a","strokeWidth":1},
"axis":{"domain":false,"grid":false,"tickColor":"#777","tickSize":2,"tickWidth":0.6,"labelFontSize":4,"labelColor":"#555","labelAngle":-90,"labelPadding":1,"labelOverlap":false,"labelFlush":false,"labelBound":false},
"axisX":{"labelOffset":-14},
"title":{"fontSize":16,"fontWeight":"normal","offset":0,"anchor":"middle","color":"#111","baseline":"alphabetic"}
}
}
